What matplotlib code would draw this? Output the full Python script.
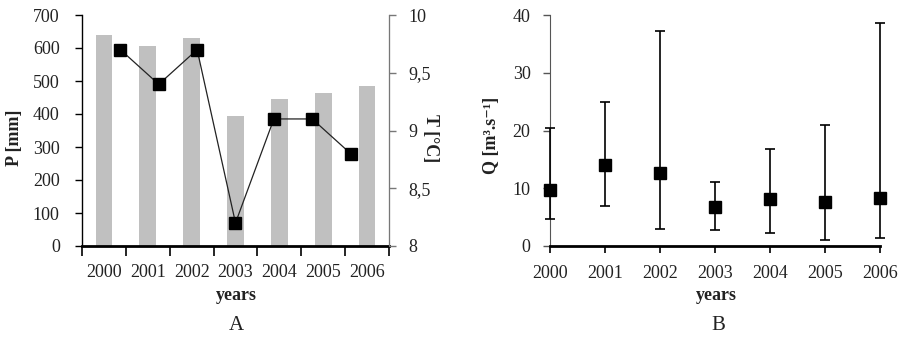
import numpy as np
import matplotlib
matplotlib.use("Agg")
import matplotlib.pyplot as plt

# data
years = ["2000", "2001", "2002", "2003", "2004", "2005", "2006"]
precip = [640, 607, 631, 394, 446, 464, 486]          # P [mm]
temp = [9.7, 9.4, 9.7, 8.2, 9.1, 9.1, 8.8]            # T [oC]
q_mean = [9.7, 14.1, 12.6, 6.7, 8.1, 7.7, 8.3]        # Q mean
q_min = [4.6, 7.0, 2.9, 2.8, 2.2, 1.0, 1.4]
q_max = [20.5, 25.0, 37.3, 11.0, 16.8, 21.0, 38.6]
temp_ticks = [8, 8.5, 9, 9.5, 10]
temp_labels = ["8", "8,5", "9", "9,5", "10"]

plt.rcParams["font.family"] = ["Liberation Serif", "DejaVu Serif"]
tcol = "#222222"
fs = 13

fig = plt.figure(figsize=(9.03, 3.52), dpi=100)
W, H = 903, 352

def box(x0, y0, x1, y1):
    return [x0 / W, 1 - y1 / H, (x1 - x0) / W, (y1 - y0) / H]

# ---------- panel A ----------
ax = fig.add_axes(box(82, 15, 389, 246))
n = len(years)
x = np.arange(n)
ax.bar(x, precip, width=0.38, color="#c0c0c0", zorder=1)
ax.set_xlim(-0.5, n - 0.5)
ax.set_ylim(0, 700)
ax.set_yticks(range(0, 701, 100))
ax.set_xticks(np.arange(n + 1) - 0.5)
ax.set_xticklabels([])
ax.set_xticks(x, minor=True)
ax.set_xticklabels(years, minor=True)
ax.tick_params(axis="x", which="major", direction="out", length=7, width=1.2, color="black")
ax.tick_params(axis="x", which="minor", length=0, pad=13, labelsize=fs, labelcolor=tcol)
ax.tick_params(axis="y", direction="out", length=5, width=1, pad=11, labelsize=fs, labelcolor=tcol)
ax.spines["top"].set_visible(False)
ax.spines["bottom"].set_linewidth(2)
ax.spines["left"].set_linewidth(1)

axt = ax.twinx()
# line sits on a secondary category axis with 8 gaps across the plot
x_line = (np.arange(n) + 1) * n / (n + 1) - 0.5
axt.plot(x_line, temp, color="#222222", lw=0.9, marker="s", ms=9,
         mfc="black", mec="black", zorder=3)
axt.set_ylim(8, 10)
axt.set_yticks(temp_ticks)
axt.set_yticklabels(temp_labels)
axt.tick_params(axis="y", direction="out", length=5, width=1, pad=9, labelsize=fs,
                labelcolor=tcol, color="#777777")
axt.spines["top"].set_visible(False)
axt.spines["right"].set_color("#777777")
axt.spines["left"].set_visible(False)
axt.spines["bottom"].set_visible(False)

fig.text(15 / W, 1 - 138 / H, "P [mm]", rotation=90, ha="center", va="center",
         fontsize=fs, fontweight="bold", color=tcol)
fig.text(431 / W, 1 - 138 / H, "T [\u00b0C]", rotation=270, ha="center", va="center",
         fontsize=fs, fontweight="bold", color=tcol)
fig.text(236 / W, 1 - 295 / H, "years", ha="center", va="center",
         fontsize=fs, fontweight="bold", color=tcol)
fig.text(236 / W, 1 - 326 / H, "A", ha="center", va="center", fontsize=15, color=tcol)

# ---------- panel B ----------
bx = fig.add_axes(box(550, 15, 880, 246))
qm = np.array(q_mean)
err = [qm - np.array(q_min), np.array(q_max) - qm]
bx.errorbar(x, qm, yerr=err, fmt="s", ms=9, color="black", ecolor="black",
            elinewidth=1.2, capsize=3.6, capthick=1.2, clip_on=False, zorder=3)
bx.set_xlim(0, n - 1)
bx.set_ylim(0, 40)
bx.set_yticks(range(0, 41, 10))
bx.set_xticks(x)
bx.set_xticklabels(years)
bx.tick_params(axis="x", direction="out", length=5, width=1.2, pad=9, labelsize=fs,
               labelcolor=tcol)
bx.tick_params(axis="y", direction="out", length=5, width=1, pad=9, labelsize=fs,
               labelcolor=tcol, color="#555555")
bx.spines["top"].set_visible(False)
bx.spines["right"].set_visible(False)
bx.spines["bottom"].set_linewidth(2)
bx.spines["left"].set_color("#555555")

fig.text(492 / W, 1 - 135 / H, "Q [m\u00b3.s\u207b\u00b9]", rotation=90, ha="center",
         va="center", fontsize=fs, fontweight="bold", color=tcol)
fig.text(716 / W, 1 - 295 / H, "years", ha="center", va="center",
         fontsize=fs, fontweight="bold", color=tcol)
fig.text(718 / W, 1 - 326 / H, "B", ha="center", va="center", fontsize=15, color=tcol)

fig.savefig("out.png", dpi=100)
